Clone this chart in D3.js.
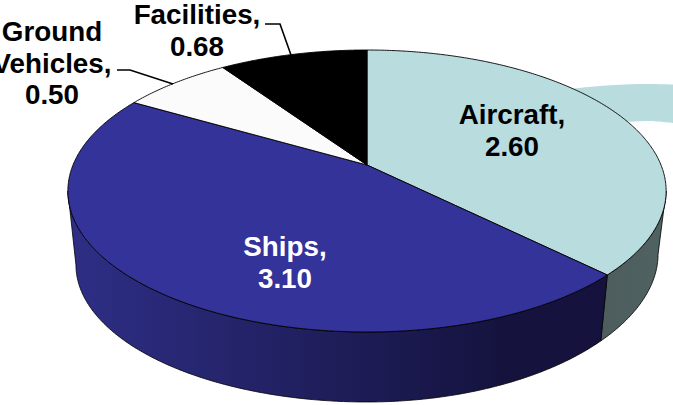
<!DOCTYPE html>
<html>
<head>
<meta charset="utf-8">
<style>
html,body{margin:0;padding:0;background:#fff}
svg{display:block}
text{font-family:"Liberation Sans",Arial,sans-serif;font-weight:700;font-size:27.8px;text-anchor:middle}
</style>
<script src="https://cdn.jsdelivr.net/npm/d3@7/dist/d3.min.js"></script>
</head>
<body>
<svg id="chart" width="673" height="405"></svg>
<script>
// Spending by platform category
const categories = ["Aircraft", "Ships", "Ground Vehicles", "Facilities"];
const values = [2.60, 3.10, 0.50, 0.68];
const topColors = ["#b9dcdf", "#333399", "#fbfbfb", "#000000"];
const valueLabels = ["2.60", "3.10", "0.50", "0.68"];

const svg = d3.select("#chart");

// Tilted-disc projection: u runs left to right, v runs back to front, both in -1..1
const tilt = 0.1844;
const yaw = 0.035;
const centerX = 367;
const topY = 165, bottomY = 239.5, bottomScale = 0.973;
const rimLift = 11;
const halfW = d3.scaleLinear().domain([-1, 1]).range([-294, 294]);
const halfH = d3.scaleLinear().domain([-1, 1]).range([-136.2, 136.2]);

// Slice angle on the disc after the slight yaw of the view
const viewAngle = a => a - yaw * Math.sin(a);

function project(angle, level) {
  const u = Math.sin(angle), v = -Math.cos(angle), w = 1 - tilt * v;
  if (level === 0) return [centerX + halfW(u) / w, topY + halfH(v) / w];
  // The lower rim rises a little towards the right-hand side
  const lift = u > 0 ? rimLift * u * u : 0;
  return [
    centerX + bottomScale * halfW(u) / w,
    bottomY + bottomScale * halfH(v) / w - lift
  ];
}

const line = d3.line();
const pie = d3.pie().sort(null).value(d => d)(values);

function rimAngles(a0, a1) {
  const n = Math.max(2, Math.ceil((a1 - a0) / 0.01));
  return d3.range(n + 1).map(i => a0 + (a1 - a0) * i / n);
}

const defs = svg.append("defs");
const sideStops = [
  {id: "sideAircraft", x1: 600, x2: 670, c: ["#4d5d5d", "#506262"]},
  {id: "sideShips", x1: 70, x2: 500, c: ["#2e2e86", "#15133e"]}
];
sideStops.forEach(g => {
  const lg = defs.append("linearGradient").attr("id", g.id)
    .attr("gradientUnits", "userSpaceOnUse")
    .attr("x1", g.x1).attr("x2", g.x2).attr("y1", 0).attr("y2", 0);
  lg.append("stop").attr("offset", 0).attr("stop-color", g.c[0]);
  lg.append("stop").attr("offset", 1).attr("stop-color", g.c[1]);
});

// Pale ribbon passing behind the disc on the right
const ribbon = d3.line().curve(d3.curveCatmullRom);
const ribbonOuter = [[560, 90], [600, 86], [640, 84], [673, 84.5]];
const ribbonInner = [[673, 123], [647, 121], [625, 122], [600, 122]];
svg.append("path")
  .attr("d", ribbon(ribbonOuter) + "L" + ribbon(ribbonInner).slice(1) + "Z")
  .attr("fill", topColors[0]);

// Visible wall runs between the two silhouette tangents of the rim
const wallStart = Math.PI - Math.acos(tilt);
const wallEnd = Math.PI + Math.acos(tilt);
const wallFill = ["url(#sideAircraft)", "url(#sideShips)"];

pie.forEach((d, i) => {
  const a0 = Math.max(viewAngle(d.startAngle), wallStart), a1 = Math.min(viewAngle(d.endAngle), wallEnd);
  if (a1 <= a0) return;
  const angles = rimAngles(a0, a1);
  const pts = angles.map(a => project(a, 0)).concat(angles.slice().reverse().map(a => project(a, 1)));
  svg.append("path")
    .attr("d", line(pts) + "Z")
    .attr("fill", wallFill[i])
    .attr("stroke", "#000")
    .attr("stroke-width", 0.8)
    .attr("stroke-linejoin", "round");
});

// Top face
pie.forEach((d, i) => {
  const pts = [[centerX, topY]].concat(rimAngles(viewAngle(d.startAngle), viewAngle(d.endAngle)).map(a => project(a, 0)));
  svg.append("path")
    .attr("d", line(pts) + "Z")
    .attr("fill", topColors[i])
    .attr("stroke", "#000")
    .attr("stroke-width", 0.9)
    .attr("stroke-linejoin", "round");
});

// Leader lines for the two labels outside the disc
[
  [[265, 24], [280, 24], [291, 55]],
  [[117, 70], [130, 70], [173, 84]]
].forEach(p => {
  svg.append("path").attr("d", line(p)).attr("fill", "none")
    .attr("stroke", "#000").attr("stroke-width", 1.6);
});

// Labels, one line per row
const labelRows = [
  {lines: [categories[0] + ",", valueLabels[0]], x: 512, y: 124, fill: "#000"},
  {lines: [categories[1] + ",", valueLabels[1]], x: 285, y: 256, fill: "#fff"},
  {lines: ["Ground", "Vehicles,", valueLabels[2]], x: 52, y: 41, fill: "#000"},
  {lines: [categories[3] + ",", valueLabels[3]], x: 197, y: 24, fill: "#000"}
];
labelRows.forEach(l => {
  const t = svg.append("text").attr("fill", l.fill);
  l.lines.forEach((s, i) => {
    t.append("tspan").attr("x", l.x).attr("y", l.y + i * 31.5).text(s);
  });
});
</script>
</body>
</html>
